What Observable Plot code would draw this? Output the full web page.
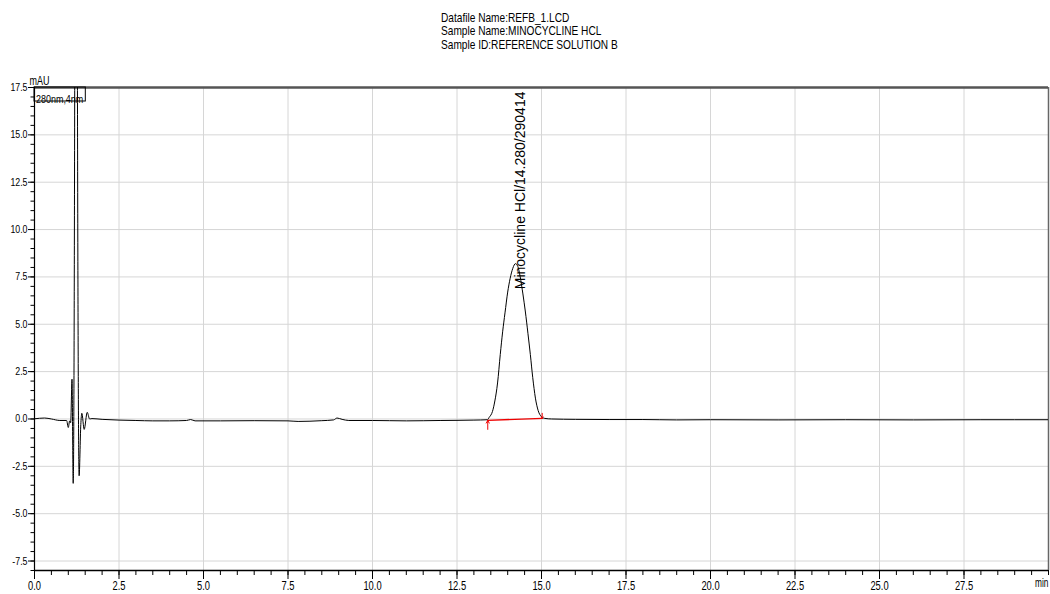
<!DOCTYPE html>
<html><head><meta charset="utf-8">
<script src="https://cdn.jsdelivr.net/npm/d3@7"></script>
<script src="https://cdn.jsdelivr.net/npm/@observablehq/plot@0.6"></script>
<style>
body{margin:0;background:#fff;font-family:"Liberation Sans",Arial,sans-serif;}
#head{position:relative;height:60px;width:1050px;}
#title{position:absolute;left:441px;top:11px;font-size:13.5px;line-height:13.3px;transform:scaleX(0.75);transform-origin:0 0;white-space:nowrap;color:#000;}
#chart svg{display:block;}
</style></head><body>
<div id="head"><div id="title"></div></div>
<div id="chart"></div>
<script>
const titleLines = ["Datafile Name:REFB_1.LCD", "Sample Name:MINOCYCLINE HCL", "Sample ID:REFERENCE SOLUTION B"];
const channelLabel = "280nm,4nm";
const yUnit = "mAU";
const xUnit = "min";
const xTicks = [0, 2.5, 5, 7.5, 10, 12.5, 15, 17.5, 20, 22.5, 25, 27.5];
const yTicks = [-7.5, -5, -2.5, 0, 2.5, 5, 7.5, 10, 12.5, 15, 17.5];
const xMinorTicks = d3.range(0, 30.001, 0.5);
const yMinorTicks = d3.range(-8, 17.501, 0.5);

const traceTime = [0.00,0.30,0.50,0.75,0.95,1.00,1.04,1.07,1.11,1.145,1.19,1.215,1.245,1.27,1.32,1.37,1.40,1.47,1.56,1.63,1.70,2.00,2.50,3.00,3.50,4.00,4.50,4.62,4.75,5.50,6.50,7.50,7.80,8.50,8.85,8.95,9.10,9.30,10.0,11.0,12.0,13.0,13.40,13.45,13.55,13.62,13.70,13.78,13.85,13.92,14.00,14.07,14.15,14.23,14.30,14.37,14.45,14.52,14.60,14.67,14.74,14.82,14.90,15.00,15.10,15.30,16.0,17.0,18.0,19.0,20.0,22.0,24.0,26.0,28.0,30.0];
const traceMAU = [0.01,0.05,0.0,-0.08,-0.08,-0.45,-0.1,-0.2,2.1,-3.4,18,60,60,18,-3.0,-0.3,0.3,-0.55,0.35,0.0,0.02,-0.02,-0.06,-0.08,-0.1,-0.1,-0.08,-0.03,-0.1,-0.1,-0.09,-0.1,-0.13,-0.09,-0.05,0.05,-0.02,-0.08,-0.08,-0.1,-0.08,-0.06,-0.04,0.08,0.4,0.95,1.9,3.4,4.6,5.6,6.7,7.4,7.95,8.2,8.05,7.5,6.6,5.7,4.5,3.4,2.2,1.1,0.45,0.12,0.03,0.0,-0.02,-0.03,-0.03,-0.05,-0.04,-0.05,-0.04,-0.05,-0.04,-0.04];

const baselineTime = [13.41, 15.02];
const baselineMAU = [-0.07, 0.03];
const markerTime = [13.41, 15.02];
const markerFrom = [-0.55, 0.30];
const markerTo = [-0.08, 0.03];
const peakLabel = "Minocycline HCl/14.280/290414";
const peakLabelTime = 14.38;
const peakLabelMAU = 6.85;

document.getElementById("title").innerHTML = titleLines.map(s => `<div>${s}</div>`).join("");

const trace = traceTime.map((t, i) => ({t, v: traceMAU[i]}));
const baseline = baselineTime.map((t, i) => ({t, v: baselineMAU[i]}));
const markers = markerTime.map((t, i) => ({t, y1: markerFrom[i], y2: markerTo[i]}));
const fmt = d => d.toFixed(1);

const chart = Plot.plot({
  width: 1050, height: 534,
  marginTop: 27, marginBottom: 24, marginLeft: 34, marginRight: 2,
  x: {domain: [0, 30], label: null},
  y: {domain: [-8.0, 17.5], label: null},
  style: {fontFamily: "'Liberation Sans', Arial, sans-serif", fontSize: "11px", color: "#000", background: "#fff"},
  marks: [
    Plot.gridX(xTicks.slice(1), {stroke: "#d6d6d6", strokeOpacity: 1}),
    Plot.gridY(yTicks, {stroke: "#d6d6d6", strokeOpacity: 1}),
    Plot.ruleX([30], {stroke: "#666", strokeWidth: 1.5}),
    Plot.ruleY([17.5], {stroke: "#555", strokeWidth: 2.5}),
    Plot.line(trace, {x: "t", y: "v", curve: "monotone-x", stroke: "#000", strokeWidth: 1, clip: true}),
    Plot.line(baseline, {x: "t", y: "v", stroke: "#e00", strokeWidth: 1.3}),
    Plot.arrow(markers, {x: "t", y1: "y1", y2: "y2", stroke: "#e00", strokeWidth: 1, headLength: 6}),
    Plot.text([peakLabel], {x: peakLabelTime, y: peakLabelMAU, rotate: -90, textAnchor: "start", fontSize: 14, fill: "#000"}),
    Plot.axisX(xMinorTicks, {tickSize: 5, tickFormat: () => "", stroke: "#000"}),
    Plot.axisX(xTicks, {tickSize: 9, tickPadding: 1, tickFormat: fmt, fontSize: 13, stroke: "#000"}),
    Plot.axisY(yMinorTicks, {tickSize: 3.5, tickFormat: () => "", stroke: "#000"}),
    Plot.axisY(yTicks, {tickSize: 6, tickPadding: 1, tickFormat: fmt, fontSize: 11, stroke: "#000"}),
    Plot.ruleY([-8.0], {stroke: "#000", strokeWidth: 1.5}),
    Plot.ruleX([0], {stroke: "#000", strokeWidth: 1.2}),
    Plot.text([yUnit], {frameAnchor: "top-left", textAnchor: "start", dx: -5, dy: -11, fontSize: 12}),
    Plot.text([xUnit], {frameAnchor: "bottom-right", textAnchor: "end", dy: 16, fontSize: 13}),
    Plot.text([channelLabel], {frameAnchor: "top-left", textAnchor: "start", dx: 1.5, dy: 7, fontSize: 11.5})
  ]
});
document.getElementById("chart").appendChild(chart);

function condenseNodes(nodes, s) {
  nodes.forEach(t => {
    const tr = t.getAttribute("transform") || "";
    const x = t.getAttribute("x");
    let pre = "";
    if (x != null && isFinite(+x)) {
      pre = `translate(${+x},0) `;
      t.removeAttribute("x");
    }
    t.setAttribute("transform", `${tr} ${pre}scale(${s},1)`);
  });
}
const allText = Array.from(chart.querySelectorAll("text"));
const byContent = s => allText.filter(t => t.textContent === s);
condenseNodes(Array.from(chart.querySelectorAll('g[aria-label="x-axis tick label"] text')), 0.72);
condenseNodes(Array.from(chart.querySelectorAll('g[aria-label="y-axis tick label"] text')), 0.8);
condenseNodes(byContent(yUnit), 0.75);
condenseNodes(byContent(xUnit), 0.64);
condenseNodes(byContent(channelLabel), 0.78);

// box around the channel label
const chanText = byContent(channelLabel)[0];
const svgBox = chart.getBoundingClientRect();
const boxLeft = 34, boxTop = 27;
let boxW = 50;
if (chanText) {
  const cb = chanText.getBoundingClientRect();
  boxW = Math.max(50, cb.right - svgBox.left - boxLeft + 2);
}
d3.select(chart).append("rect")
  .attr("x", boxLeft).attr("y", boxTop).attr("width", boxW).attr("height", 14)
  .attr("fill", "none").attr("stroke", "#000").attr("stroke-width", 1);
</script>
</body></html>
